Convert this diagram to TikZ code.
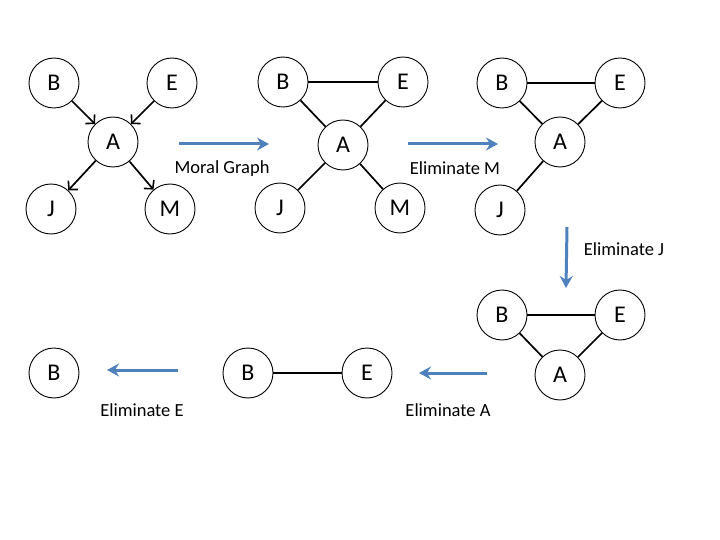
\documentclass[tikz,border=0pt]{standalone}
\usepackage{fontspec}
\setmainfont{Carlito}
\usetikzlibrary{arrows.meta}
\definecolor{flowblue}{HTML}{4F81BD}
\tikzset{
  vnode/.style={circle,draw=black,line width=0.9pt,fill=white,minimum size=50pt,inner sep=0pt,font=\fontsize{24}{28}\selectfont},
  edge/.style={draw=black,line width=1.7pt},
  dedge/.style={edge,-{Straight Barb[length=6pt,width=13pt,line width=1.6pt]}},
  flow/.style={draw=flowblue,line width=3pt,-{Stealth[length=12pt,width=13pt,inset=4pt]}},
  lbl/.style={font=\fontsize{18.5}{22}\selectfont}
}
\begin{document}
\begin{tikzpicture}[x=1pt,y=-1pt]
\useasboundingbox (0,0) rectangle (720,540);
% graph 1
\node[vnode] (b1) at (54,83) {B};
\node[vnode] (e1) at (172,83) {E};
\node[vnode] (a1) at (113,142) {A};
\node[vnode] (j1) at (51,209) {J};
\node[vnode] (m1) at (170,209) {M};
\draw[dedge] (b1) -- (a1);
\draw[dedge] (e1) -- (a1);
\draw[dedge] (a1) -- (j1);
\draw[dedge] (a1) -- (m1);
% arrow 1
\coordinate (f1s) at (179,144);
\coordinate (f1e) at (269,144);
\draw[flow] (f1s) -- (f1e);
\node[lbl] (l1) at (222,169) {Moral Graph};
% graph 2
\node[vnode] (b2) at (283,82) {B};
\node[vnode] (e2) at (403,82) {E};
\node[vnode] (a2) at (343,145) {A};
\node[vnode] (j2) at (280,208) {J};
\node[vnode] (m2) at (400,208) {M};
\draw[edge] (b2) -- (e2);
\draw[edge] (b2) -- (a2);
\draw[edge] (e2) -- (a2);
\draw[edge] (a2) -- (j2);
\draw[edge] (a2) -- (m2);
% arrow 2
\coordinate (f2s) at (408,144);
\coordinate (f2e) at (498,144);
\draw[flow] (f2s) -- (f2e);
\node[lbl] (l2) at (455,168) {Eliminate M};
% graph 3
\node[vnode] (b3) at (502,83) {B};
\node[vnode] (e3) at (620,83) {E};
\node[vnode] (a3) at (560,142) {A};
\node[vnode] (j3) at (500,210) {J};
\draw[edge] (b3) -- (e3);
\draw[edge] (b3) -- (a3);
\draw[edge] (e3) -- (a3);
\draw[edge] (a3) -- (j3);
% arrow 3
\coordinate (f3s) at (567,227);
\coordinate (f3e) at (566,288);
\draw[flow] (f3s) -- (f3e);
\node[lbl] (l3) at (624,249) {Eliminate J};
% graph 4
\node[vnode] (b4) at (502,315) {B};
\node[vnode] (e4) at (620,315) {E};
\node[vnode] (a4) at (560,375) {A};
\draw[edge] (b4) -- (e4);
\draw[edge] (b4) -- (a4);
\draw[edge] (e4) -- (a4);
% arrow 4
\coordinate (f4s) at (487,373);
\coordinate (f4e) at (419,373);
\draw[flow] (f4s) -- (f4e);
\node[lbl] (l4) at (448,410) {Eliminate A};
% graph 5
\node[vnode] (b5) at (248,373) {B};
\node[vnode] (e5) at (367,373) {E};
\draw[edge] (b5) -- (e5);
% arrow 5
\coordinate (f5s) at (178,370);
\coordinate (f5e) at (107,370);
\draw[flow] (f5s) -- (f5e);
\node[lbl] (l5) at (142,410) {Eliminate E};
% graph 6
\node[vnode] (b6) at (54,373) {B};
\end{tikzpicture}
\end{document}
